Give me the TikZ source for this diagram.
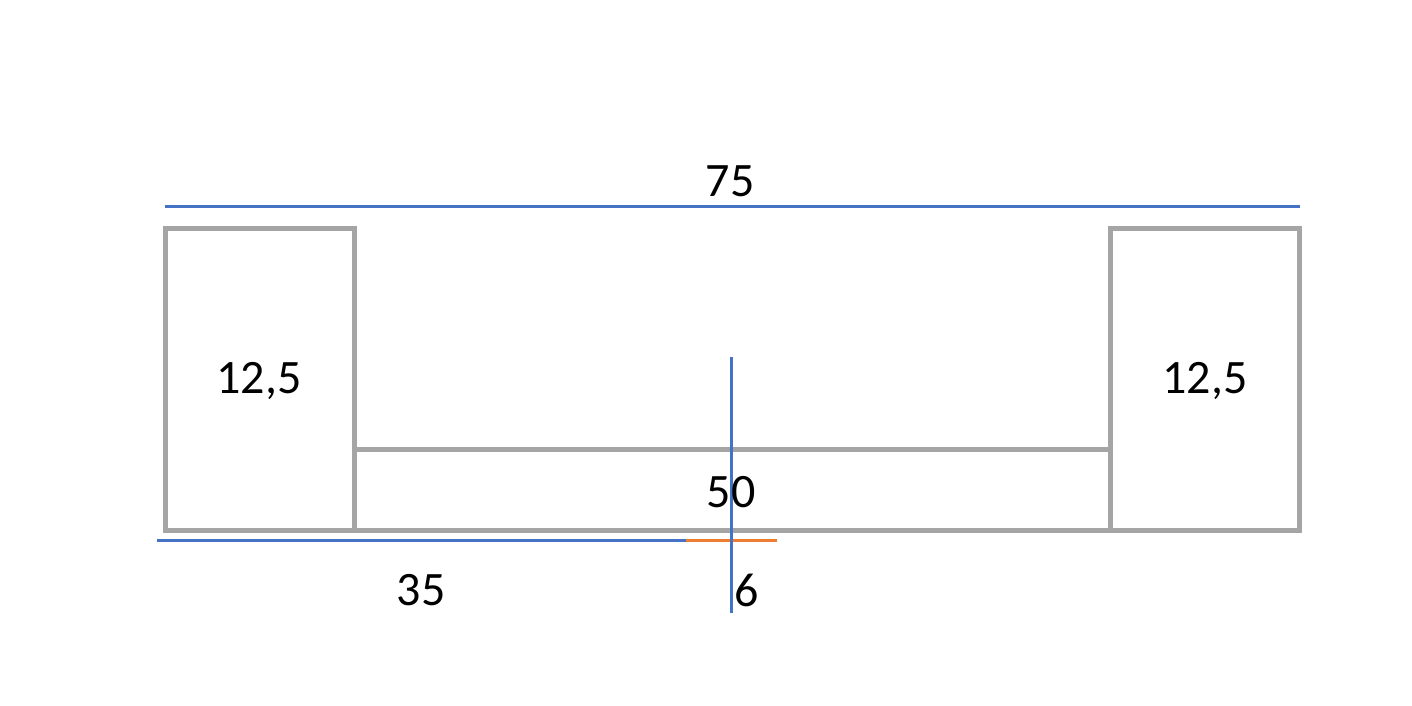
\documentclass[tikz,border=0pt]{standalone}
\usepackage{fontspec}
\setmainfont{Carlito}
\definecolor{boxgray}{HTML}{A5A5A5}
\definecolor{dimblue}{HTML}{4472C4}
\definecolor{dimorange}{HTML}{ED7D31}
\begin{document}
\begin{tikzpicture}[x=1pt,y=-1pt,
  part/.style={draw=boxgray,line width=5pt},
  dimline/.style={draw=dimblue,line width=3pt},
  dimorangeline/.style={draw=dimorange,line width=3pt},
  lbl/.style={font=\fontsize{48}{56}\selectfont,inner sep=0pt,anchor=center}]
\useasboundingbox (0,0) rectangle (1412,705);
% boxes
\draw[part] (165.5,228.5) rectangle (354.7,530.5);
\draw[part] (1110.7,228.5) rectangle (1299.5,530.5);
\draw[part] (354.7,449.5) rectangle (1110.7,530.5);
% dimension lines
\coordinate (t1) at (165,206);
\coordinate (t2) at (1300,206);
\draw[dimline] (t1) -- (t2);
\coordinate (b1) at (157,540.5);
\coordinate (b2) at (686,540.5);
\coordinate (b3) at (777,540.5);
\draw[dimline] (b1) -- (b2);
\draw[dimorangeline] (b2) -- (b3);
\coordinate (v1) at (731,357);
\coordinate (v2) at (731,613);
\draw[dimline] (v1) -- (v2);
% labels
\node[lbl] (l75) at (730,181) {75};
\node[lbl] (lL) at (259,381) {12,5};
\node[lbl] (lR) at (1205,381) {12,5};
\node[lbl] (l50) at (731,492) {50};
\node[lbl] (l35) at (421,590) {35};
\node[lbl] (l6) at (747,590) {6};
\end{tikzpicture}
\end{document}
